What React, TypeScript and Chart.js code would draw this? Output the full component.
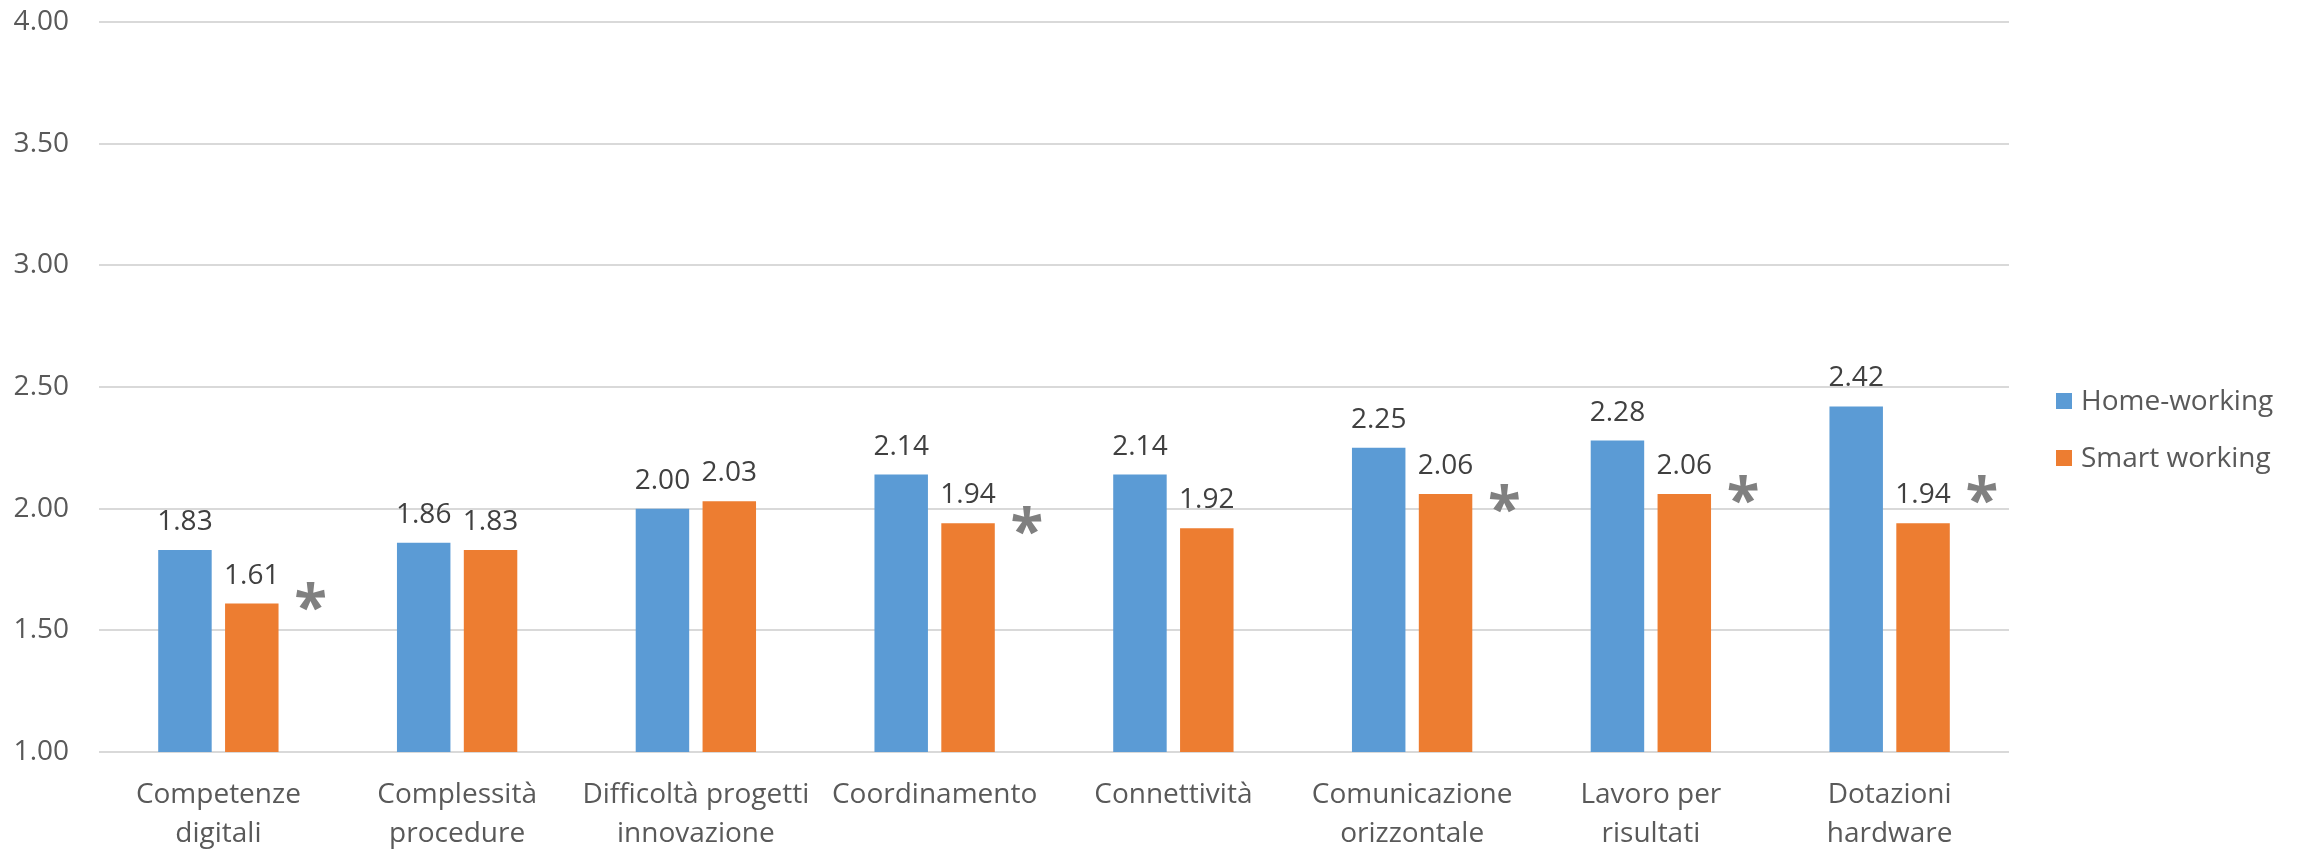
import React, { useEffect, useRef } from "react";
import { Chart, registerables } from "chart.js";

Chart.register(...registerables);

const categories: string[][] = [
  ["Competenze", "digitali"],
  ["Complessità", "procedure"],
  ["Difficoltà progetti", "innovazione"],
  ["Coordinamento"],
  ["Connettività"],
  ["Comunicazione", "orizzontale"],
  ["Lavoro per", "risultati"],
  ["Dotazioni", "hardware"],
];
const homeWorking: number[] = [1.83, 1.86, 2.0, 2.14, 2.14, 2.25, 2.28, 2.42];
const smartWorking: number[] = [1.61, 1.83, 2.03, 1.94, 1.92, 2.06, 2.06, 1.94];
// vertical position (in axis units) of the significance asterisk, null = none
const asteriskLevels: (number | null)[] = [1.64, null, null, 1.95, null, 2.04, 2.08, 2.08];
const seriesNames: string[] = ["Home-working", "Smart working"];
const seriesColors: string[] = ["#5b9bd5", "#ed7d31"];

const FONT = "'Open Sans', 'Noto Sans', sans-serif";
const FS = 28;

const labelsPlugin = {
  id: "barLabels",
  afterDatasetsDraw(chart: any) {
    const ctx = chart.ctx;
    ctx.save();
    ctx.font = `${FS}px ${FONT}`;
    ctx.fillStyle = "#404040";
    ctx.textAlign = "center";
    ctx.textBaseline = "alphabetic";
    chart.data.datasets.forEach((ds: any, di: number) => {
      const meta = chart.getDatasetMeta(di);
      meta.data.forEach((bar: any, i: number) => {
        ctx.fillText(Number(ds.data[i]).toFixed(2), bar.x, bar.y - 20);
      });
    });
    // asterisks
    const yScale = chart.scales.y;
    const orangeMeta = chart.getDatasetMeta(1);
    ctx.fillStyle = "#808080";
    let size = 60;
    ctx.font = `bold ${size}px ${FONT}`;
    let m = ctx.measureText("*");
    const h = m.actualBoundingBoxAscent + m.actualBoundingBoxDescent;
    if (h > 0) size = (size * 29) / h;
    ctx.font = `bold ${size}px ${FONT}`;
    m = ctx.measureText("*");
    const asc = m.actualBoundingBoxAscent;
    const desc = m.actualBoundingBoxDescent;
    asteriskLevels.forEach((lv, i) => {
      if (lv === null) return;
      const bar: any = orangeMeta.data[i];
      const cx = bar.x + bar.width / 2 + 32;
      const cy = yScale.getPixelForValue(lv);
      ctx.fillText("*", cx, cy - (desc - asc) / 2);
    });
    ctx.restore();
  },
};

const legendPlugin = {
  id: "customLegend",
  afterDraw(chart: any) {
    const ctx = chart.ctx;
    const area = chart.chartArea;
    ctx.save();
    ctx.font = `${FS}px ${FONT}`;
    ctx.textBaseline = "middle";
    ctx.textAlign = "left";
    const centerY = chart.height / 2 + 5;
    const spacing = 57;
    seriesNames.forEach((name, i) => {
      const y = centerY + (i - (seriesNames.length - 1) / 2) * spacing;
      const x = area.right + 47;
      ctx.fillStyle = seriesColors[i];
      ctx.fillRect(x, y - 8, 16, 16);
      ctx.fillStyle = "#595959";
      ctx.fillText(name, x + 25, y + 1);
    });
    ctx.restore();
  },
};

export default function App() {
  const ref = useRef<HTMLCanvasElement | null>(null);
  useEffect(() => {
    if (!ref.current) return;
    const chart = new Chart(ref.current, {
      type: "bar",
      data: {
        labels: categories,
        datasets: [
          {
            label: seriesNames[0],
            data: homeWorking,
            backgroundColor: seriesColors[0],
            categoryPercentage: 0.56,
            barPercentage: 0.8,
          },
          {
            label: seriesNames[1],
            data: smartWorking,
            backgroundColor: seriesColors[1],
            categoryPercentage: 0.56,
            barPercentage: 0.8,
          },
        ],
      },
      options: {
        animation: false,
        responsive: false,
        maintainAspectRatio: false,
        layout: { padding: { top: 0, right: 294, left: 0, bottom: 0 } },
        plugins: {
          legend: { display: false },
          tooltip: { enabled: false },
        },
        scales: {
          x: {
            grid: { display: false, drawTicks: false },
            border: { display: false },
            ticks: {
              color: "#595959",
              font: { family: FONT, size: FS, lineHeight: 1.4 },
              padding: 23,
              maxRotation: 0,
              autoSkip: false,
            },
            afterFit(scale: any) {
              scale.height = 97;
            },
          },
          y: {
            min: 1,
            max: 4,
            grid: { color: "#d9d9d9", lineWidth: 2, drawTicks: false },
            border: { display: false },
            ticks: {
              stepSize: 0.5,
              color: "#595959",
              font: { family: FONT, size: FS },
              padding: 30,
              callback: (v: any) => Number(v).toFixed(2),
            },
            afterFit(scale: any) {
              scale.width = 99;
              scale.paddingTop = 22;
              scale.paddingBottom = 0;
            },
          },
        },
      },
      plugins: [labelsPlugin, legendPlugin],
    });
    return () => chart.destroy();
  }, []);
  return (
    <div style={{ position: "absolute", left: 0, top: 0, width: 2303, height: 849, background: "#fff" }}>
      <canvas ref={ref} width={2303} height={849} style={{ display: "block" }} />
    </div>
  );
}
